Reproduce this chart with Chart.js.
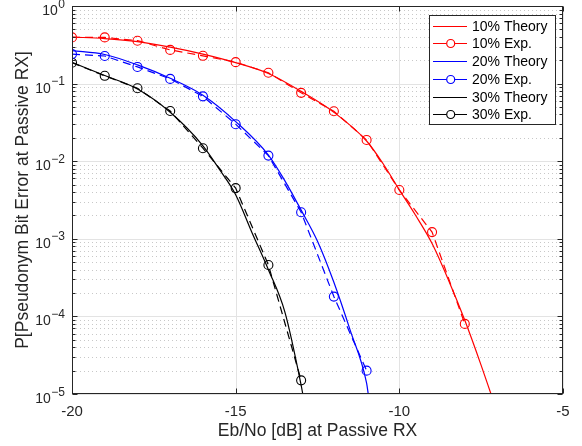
<!DOCTYPE html>
<html>
<head>
<meta charset="utf-8">
<script src="https://cdn.jsdelivr.net/npm/chart.js@4.4.1/dist/chart.umd.min.js"></script>
<style>
  html, body { margin: 0; padding: 0; background: #fff; }
  #wrap { width: 582px; height: 446px; }
</style>
</head>
<body>
<div id="wrap"><canvas id="c" width="582" height="446"></canvas></div>
<script>
// ticks
const xTickVals = [-20, -15, -10, -5];
const yTickExps = [0, -1, -2, -3, -4, -5];

// measured points (circles)
const exp10X = [-20, -19, -18, -17, -16, -15, -14, -13, -12, -11, -10, -9, -8];
const exp10Y = [0.394, 0.394, 0.357, 0.272, 0.228, 0.189, 0.138, 0.076, 0.044, 0.0188, 0.00425, 0.00122, 0.00008];
const exp20X = [-20, -19, -18, -17, -16, -15, -14, -13, -12, -11];
const exp20Y = [0.24, 0.227, 0.164, 0.115, 0.0685, 0.030, 0.0118, 0.0022, 0.00018, 0.00002];
const exp30X = [-20, -19, -18, -17, -16, -15, -14, -13];
const exp30Y = [0.186, 0.126, 0.087, 0.0443, 0.0147, 0.0045, 0.00046, 0.000015];

// theory curves
const th10X = [-20, -19, -18, -17, -16, -15, -14, -13, -12, -11, -10.5, -10, -9.5, -9, -8.5, -8, -7.5, -7.2];
const th10Y = [0.398, 0.380, 0.347, 0.295, 0.240, 0.186, 0.135, 0.0794, 0.0427, 0.0182, 0.00933, 0.00427, 0.0020, 0.00087, 0.000295, 0.000089, 0.0000234, 0.00001];
const th20X = [-20, -19, -18, -17, -16, -15, -14, -13.5, -13, -12.5, -12, -11.5, -11, -10.95];
const th20Y = [0.266, 0.237, 0.174, 0.117, 0.0708, 0.0324, 0.0120, 0.00562, 0.00234, 0.00093, 0.000275, 0.000066, 0.0000138, 0.00001];
const th30X = [-20, -19, -18, -17, -16, -15.5, -15, -14.5, -14, -13.5, -13, -12.95];
const th30Y = [0.188, 0.127, 0.0851, 0.0427, 0.0158, 0.0079, 0.0037, 0.0012, 0.0004, 0.000115, 0.000013, 0.00001];

const FONT = '"Liberation Sans", Arial, Helvetica, sans-serif';
const AXIS = '#262626';

const pts = (xs, ys) => xs.map((x, i) => ({ x: x, y: ys[i] }));

function theory(label, color, xs, ys) {
    return {
        label: label, data: pts(xs, ys), borderColor: color, borderWidth: 1.2,
        pointRadius: 0, cubicInterpolationMode: 'monotone', fill: false
    };
}
function measured(label, color, xs, ys) {
    return {
        label: label, data: pts(xs, ys), borderColor: color, borderWidth: 1.2,
        borderDash: [8, 5], tension: 0, fill: false,
        pointRadius: 4.5, pointBorderWidth: 1.1, pointBorderColor: color,
        pointBackgroundColor: 'rgba(0,0,0,0)', pointStyle: 'circle'
    };
}

// grid under the data, box + ticks + labels + legend on top
const matlabAxes = {
    id: 'matlabAxes',
    beforeDatasetsDraw(chart) {
        const { ctx, chartArea: a, scales: { x, y } } = chart;
        ctx.save();
        ctx.lineWidth = 1;
        // minor dotted y grid
        ctx.strokeStyle = '#c8c8c8';
        ctx.setLineDash([1, 3]);
        for (let e = -5; e < 0; e++) {
            for (let m = 2; m <= 9; m++) {
                const py = Math.round(y.getPixelForValue(m * Math.pow(10, e))) + 0.5;
                ctx.beginPath(); ctx.moveTo(a.left, py); ctx.lineTo(a.right, py); ctx.stroke();
            }
        }
        // major grid
        ctx.setLineDash([]);
        ctx.strokeStyle = '#e3e3e3';
        yTickExps.forEach((k) => {
            const py = Math.round(y.getPixelForValue(Math.pow(10, k))) + 0.5;
            ctx.beginPath(); ctx.moveTo(a.left, py); ctx.lineTo(a.right, py); ctx.stroke();
        });
        xTickVals.forEach((v) => {
            const px = Math.round(x.getPixelForValue(v)) + 0.5;
            ctx.beginPath(); ctx.moveTo(px, a.top); ctx.lineTo(px, a.bottom); ctx.stroke();
        });
        ctx.restore();
    },
    afterDraw(chart) {
        const { ctx, chartArea: a, scales: { x, y } } = chart;
        ctx.save();
        ctx.strokeStyle = AXIS;
        ctx.lineWidth = 1;
        const L = Math.round(a.left) + 0.5, R = Math.round(a.right) - 0.5;
        const T = Math.round(a.top) + 0.5, B = Math.round(a.bottom) - 0.5;
        ctx.strokeRect(L, T, R - L, B - T);
        // x ticks (inside, top and bottom)
        xTickVals.forEach((v) => {
            const px = Math.round(x.getPixelForValue(v)) + 0.5;
            ctx.beginPath();
            ctx.moveTo(px, B); ctx.lineTo(px, B - 5);
            ctx.moveTo(px, T); ctx.lineTo(px, T + 5);
            ctx.stroke();
        });
        // y ticks, major and minor
        for (let e = -5; e <= 0; e++) {
            for (let m = 1; m <= 9; m++) {
                if (e === 0 && m > 1) break;
                const py = Math.round(y.getPixelForValue(m * Math.pow(10, e))) + 0.5;
                const len = m === 1 ? 5 : 3;
                ctx.beginPath();
                ctx.moveTo(L, py); ctx.lineTo(L + len, py);
                ctx.moveTo(R, py); ctx.lineTo(R - len, py);
                ctx.stroke();
            }
        }
        // y tick labels 10^k
        ctx.fillStyle = AXIS;
        ctx.textBaseline = 'alphabetic';
        yTickExps.forEach((k) => {
            const py = y.getPixelForValue(Math.pow(10, k));
            const sup = k === 0 ? '0' : '\u2212' + Math.abs(k);
            ctx.font = '12px ' + FONT;
            const w = ctx.measureText(sup).width;
            const xr = 65;
            ctx.textAlign = 'left';
            ctx.fillText(sup, xr - w, py + 1.5);
            ctx.font = '14px ' + FONT;
            ctx.textAlign = 'right';
            ctx.fillText('10', xr - w - 0.5, py + 9);
        });

        // legend
        const bx = 429.5, by = 15.5, bw = 126, bh = 109;
        ctx.fillStyle = '#fff';
        ctx.fillRect(bx, by, bw, bh);
        ctx.strokeStyle = AXIS;
        ctx.strokeRect(bx, by, bw, bh);
        ctx.font = '14px ' + FONT;
        ctx.textAlign = 'left';
        ctx.textBaseline = 'middle';
        chart.data.datasets.forEach((ds, i) => {
            const ly = Math.round(25.7 + i * 17.7) + 0.5;
            ctx.strokeStyle = ds.borderColor;
            ctx.lineWidth = 1.2;
            ctx.beginPath();
            if (ds.pointRadius > 0) {
                ctx.moveTo(433, ly); ctx.lineTo(446.5, ly);
                ctx.moveTo(455, ly); ctx.lineTo(467, ly);
                ctx.stroke();
                ctx.beginPath();
                ctx.arc(450.7, ly, 4, 0, Math.PI * 2);
                ctx.stroke();
            } else {
                ctx.moveTo(433, ly); ctx.lineTo(467, ly);
                ctx.stroke();
            }
            ctx.fillStyle = '#000';
            ctx.fillText(ds.label, 472, ly + 0.5);
        });
        ctx.restore();
    }
};

const ctx = document.getElementById('c').getContext('2d');
new Chart(ctx, {
    type: 'line',
    data: {
        datasets: [
            theory('10% Theory', '#ff0000', th10X, th10Y),
            measured('10% Exp.', '#ff0000', exp10X, exp10Y),
            theory('20% Theory', '#0000ff', th20X, th20Y),
            measured('20% Exp.', '#0000ff', exp20X, exp20Y),
            theory('30% Theory', '#000000', th30X, th30Y),
            measured('30% Exp.', '#000000', exp30X, exp30Y),
        ],
    },
    options: {
        responsive: false,
        animation: false,
        devicePixelRatio: 1,
        layout: { padding: { top: 6, right: 19, left: 0, bottom: 0 } },
        plugins: {
            legend: { display: false },
            tooltip: { enabled: false },
        },
        scales: {
            x: {
                type: 'linear',
                min: -20,
                max: -5,
                afterBuildTicks: (scale) => { scale.ticks = xTickVals.map((v) => ({ value: v })); },
                afterFit: (scale) => { scale.height = 52; },
                grid: { display: false, drawTicks: false },
                border: { display: false },
                ticks: { color: AXIS, font: { family: FONT, size: 15 }, padding: 9, maxRotation: 0 },
                title: {
                    display: true,
                    text: 'Eb/No [dB] at Passive RX',
                    color: AXIS,
                    font: { family: FONT, size: 17.5 },
                    padding: 4,
                },
            },
            y: {
                type: 'logarithmic',
                min: 1e-5,
                max: 1,
                afterFit: (scale) => { scale.width = 72; },
                grid: { display: false, drawTicks: false },
                border: { display: false },
                ticks: { display: false },
                title: {
                    display: true,
                    text: 'P[Pseudonym Bit Error at Passive RX]',
                    color: AXIS,
                    font: { family: FONT, size: 17.5 },
                    padding: 13,
                },
            },
        },
    },
    plugins: [matlabAxes],
});
</script>
</body>
</html>
